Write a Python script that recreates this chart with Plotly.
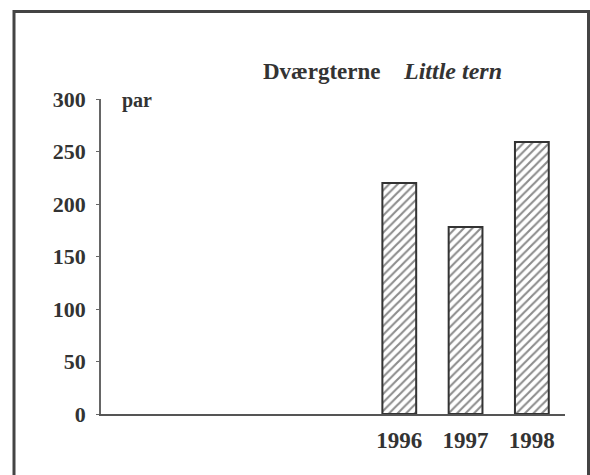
import plotly.graph_objects as go

years = ["1992", "1993", "1994", "1995", "1996", "1997", "1998"]
pairs = [None, None, None, None, 220, 178, 259]
tick_labels = ["", "", "", "", "1996", "1997", "1998"]
y_ticks = [0, 50, 100, 150, 200, 250, 300]

title_da = "Dværgterne"
title_en = "Little tern"
unit = "par"

ink = "#333333"
FAM = "Liberation Serif"

fig = go.Figure()
fig.add_trace(go.Bar(
    x=years, y=pairs, width=0.51,
    marker=dict(color="white",
                line=dict(color="#333333", width=2),
                pattern=dict(shape="/", fgcolor="#1a1a1a", bgcolor="white",
                             size=6, solidity=0.35)),
    showlegend=False,
))

# plot area: x 101..565, y 99..414 (px)
L, R, T, B = 101, 25, 99, 61
W, H = 590 - L - R, 475 - T - B

def px(x):
    return (x - L) / W

def py(y):
    return (475 - B - y) / H

fig.update_layout(
    width=590, height=475,
    margin=dict(l=L, r=R, t=T, b=B),
    paper_bgcolor="white", plot_bgcolor="white",
    font=dict(family=FAM, size=22, color=ink),
    xaxis=dict(type="category", categoryorder="array", categoryarray=years,
               tickmode="array", tickvals=years, ticktext=tick_labels,
               showline=True, linecolor="#555555", linewidth=1.5,
               ticks="", showgrid=False, zeroline=False,
               ticklabelstandoff=5,
               tickfont=dict(family=FAM, size=23, color=ink, weight="bold"),
               range=[-0.5, 6.5]),
    yaxis=dict(range=[0, 300], tickvals=y_ticks,
               showline=True, linecolor="#666666", linewidth=1.5,
               ticks="outside", ticklen=3, tickcolor="#666666",
               showgrid=False, zeroline=False,
               ticklabelstandoff=6,
               tickfont=dict(family=FAM, size=22, color=ink, weight="bold")),
    bargap=0.49,
)

fig.add_annotation(text=title_da, xref="paper", yref="paper",
                   x=px(261), y=py(71), xanchor="left", yanchor="middle",
                   showarrow=False, font=dict(family=FAM, size=23, color=ink, weight="bold"))
fig.add_annotation(text="<i>" + title_en + "</i>", xref="paper", yref="paper",
                   x=px(401), y=py(71), xanchor="left", yanchor="middle",
                   showarrow=False, font=dict(family=FAM, size=24, color=ink, weight="bold"))
fig.add_annotation(text=unit, xref="paper", yref="paper",
                   x=px(120), y=py(100), xanchor="left", yanchor="middle",
                   showarrow=False, font=dict(family=FAM, size=20, color=ink, weight="bold"))

# outer frame
fig.add_shape(type="rect", xref="paper", yref="paper",
              x0=px(14), x1=px(588.5), y0=py(490), y1=py(11.5),
              line=dict(color="#444444", width=3), layer="below")

fig.write_html("out.html", config={"displayModeBar": False},
               post_script="document.body.style.margin='0';document.body.style.padding='0';")
